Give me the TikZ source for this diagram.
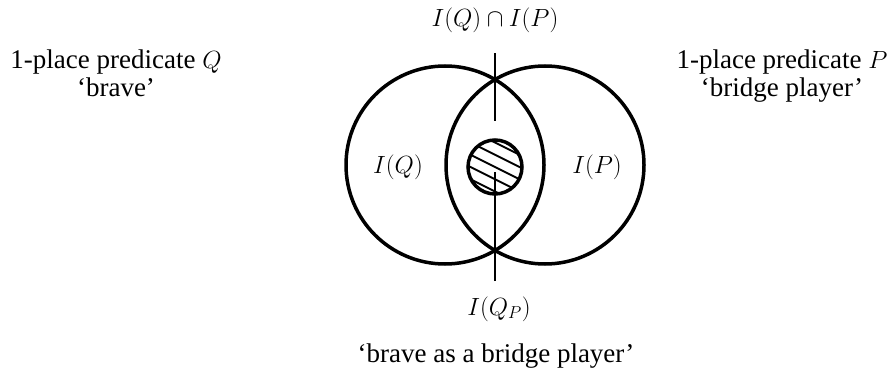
\documentclass[tikz,border=0pt]{standalone}
\usepackage{fontspec}
\setmainfont{Liberation Serif}
\usetikzlibrary{positioning, calc}
\tikzset{
  setcirc/.style = {circle, draw=black, line width=3.5pt, minimum size=198pt, inner sep=0pt},
  subcirc/.style = {circle, draw=black, line width=3.5pt, minimum size=54pt, inner sep=0pt,
                    path picture={
                      \foreach \k in {-2,...,2}
                        \draw[line width=2pt]
                          ($(path picture bounding box.center)+({-4.9*\k},{9.8*\k})+(-40,-20)$)
                          -- ++(80,40);
                    }},
  lbl/.style     = {font=\rmfamily\fontsize{27}{28}\selectfont, align=center, inner sep=0pt},
  mlbl/.style    = {font=\rmfamily\fontsize{27}{28}\selectfont, inner sep=0pt},
  pointer/.style = {draw=black, line width=1.2pt},
}
\begin{document}
\begin{tikzpicture}[x=1pt, y=-1pt]
  \useasboundingbox (0,0) rectangle (893,374);
  % the two sets and the subset
  \node[setcirc] (setQ) at (445,165) {};
  \node[setcirc] (setP) at (545,165) {};
  \node[subcirc] (hatch) at (495,167) {};
  \node[mlbl, anchor=base] (iq) at (398,173) {$I(Q)$};
  \node[mlbl, anchor=base] (ip) at (597,173) {$I(P)$};
  % predicates
  \node[lbl, anchor=base] (predQ) at (116,97) {1-place predicate $Q$\\`brave'};
  \node[lbl, anchor=base] (predP) at (782,97) {1-place predicate $P$\\`bridge player'};
  % pointers
  \node[mlbl, anchor=base] (cap) at (495,27) {$I(Q)\cap I(P)$};
  \coordinate (lens) at (495,121);
  \draw[pointer, shorten <=20pt] (cap.south) -- (lens);
  \node[mlbl, anchor=base] (qp) at (499,315) {$I(Q_P)$};
  \draw[pointer, shorten <=15pt, shorten >=5pt] (qp.north -| hatch) -- (hatch.center);
  \node[lbl, anchor=base] (gloss) at (496,362) {`brave as a bridge player'};
\end{tikzpicture}
\end{document}
